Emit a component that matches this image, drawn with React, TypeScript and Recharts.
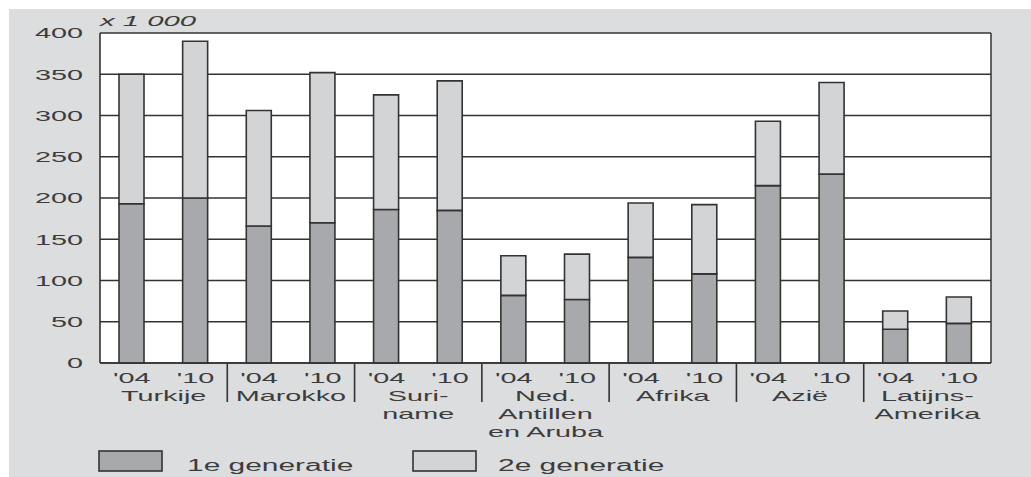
import React from 'react';
import { BarChart, Bar, XAxis, YAxis, CartesianGrid, Legend } from 'recharts';

const regions = ['Turkije', 'Marokko', 'Suri-\nname', 'Ned.\nAntillen\nen Aruba', 'Afrika', 'Azië', 'Latijns-\nAmerika'];
const years = ["'04", "'10"];
const firstGen = [193, 200, 166, 170, 186, 185, 82, 77, 128, 108, 215, 229, 41, 48];
const secondGen = [157, 190, 140, 182, 139, 157, 48, 55, 66, 84, 78, 111, 22, 32];
const yTicks = [0, 50, 100, 150, 200, 250, 300, 350, 400];
const unitLabel = 'x 1 000';
const seriesNames = ['1e generatie', '2e generatie'];

const data = firstGen.map((f, i) => ({
  key: `${regions[Math.floor(i / 2)]} ${years[i % 2]}`,
  region: regions[Math.floor(i / 2)],
  year: years[i % 2],
  first: f,
  second: secondGen[i],
}));

const FONT = "'Liberation Sans', Arial, Helvetica, sans-serif";
const TXT = '#3c3c3c';
const LINE = '#333333';
const SX = 1.92;
const C1 = '#a8a9ac';
const C2 = '#d3d4d6';

const SText = ({ x, y, children, anchor = 'middle', size = 15, sx = SX, italic = false }: any) => (
  <text
    transform={`translate(${x},${y}) scale(${sx},1)`}
    x={0}
    y={0}
    textAnchor={anchor}
    fontFamily={FONT}
    fontSize={size}
    fontStyle={italic ? 'italic' : 'normal'}
    fill={TXT}
  >
    {children}
  </text>
);

const XTick = (props: any) => {
  const { x, y, payload, index } = props;
  const band = 891 / 14;
  const half = payload && typeof payload.offset === 'number' && payload.offset > 0 ? payload.offset : band / 2;
  const i = typeof index === 'number' ? index : payload.index;
  const d = data[i];
  const out: any[] = [];
  out.push(
    <SText key="yr" x={x} y={y + 20}>
      {d.year}
    </SText>
  );
  if (i % 2 === 0) {
    const lines = d.region.split('\n');
    lines.forEach((ln: string, k: number) => {
      out.push(
        <SText key={'r' + k} x={x + half} y={y + 38 + k * 18}>
          {ln}
        </SText>
      );
    });
    if (i > 0) {
      out.push(<line key="sep" x1={x - half} x2={x - half} y1={y} y2={y + 39} stroke={LINE} strokeWidth={1.6} />);
    }
  }
  return <g>{out}</g>;
};

const YTick = (props: any) => {
  const { y, payload } = props;
  return (
    <SText x={83} y={y + 5.4} anchor="end">
      {payload.value}
    </SText>
  );
};

const renderLegend = (props: any) => {
  const payload = props.payload || [];
  const pos = [
    { bx: 99, tx: 187 },
    { bx: 413, tx: 498 },
  ];
  return (
    <svg width={1031} height={37} style={{ display: 'block' }}>
      {payload.map((p: any, k: number) => (
        <g key={k}>
          <rect x={pos[k].bx} y={11} width={63} height={20} fill={p.color} stroke={LINE} strokeWidth={1.6} />
          <SText x={pos[k].tx} y={31} anchor="start" size={16} sx={1.87}>
            {p.value}
          </SText>
        </g>
      ))}
    </svg>
  );
};

export default function App() {
  return (
    <div style={{ position: 'absolute', left: 0, top: 0, width: 1031, height: 477, background: '#fff', overflow: 'hidden' }}>
      <div style={{ position: 'absolute', left: 9, top: 9, width: 1022, height: 468, background: '#dcdddf' }} />
      <div style={{ position: 'absolute', left: 0, top: 0 }}>
        <BarChart width={1031} height={477} data={data} margin={{ top: 33, right: 40, left: 20, bottom: 14 }} barCategoryGap={0}>
          <CartesianGrid
            fill="#ffffff"
            stroke={LINE}
            strokeWidth={1.5}
            horizontal={true}
            vertical={true}
            verticalCoordinatesGenerator={(p: any) => [p.offset.left + p.offset.width]}
          />
          <XAxis
            dataKey="key"
            type="category"
            interval={0}
            height={100}
            tickLine={false}
            tickSize={0}
            tickMargin={0}
            axisLine={{ stroke: LINE, strokeWidth: 1.6 }}
            tick={<XTick />}
          />
          <YAxis
            type="number"
            domain={[0, 400]}
            ticks={yTicks}
            width={80}
            tickLine={false}
            tickSize={0}
            axisLine={{ stroke: LINE, strokeWidth: 1.6 }}
            tick={<YTick />}
            label={{
              content: (lp: any) => {
                const vb = lp.viewBox || { x: 20, y: 33, width: 80 };
                return (
                  <SText x={vb.x + vb.width} y={vb.y - 7} anchor="start" italic sx={1.95}>
                    {unitLabel}
                  </SText>
                );
              },
            }}
          />
          <Legend
            layout="horizontal"
            verticalAlign="middle"
            align="center"
            wrapperStyle={{ top: 440, left: 0, width: 1031, height: 37 }}
            content={renderLegend}
          />
          <Bar dataKey="first" name={seriesNames[0]} stackId="a" fill={C1} stroke={LINE} strokeWidth={1.6} barSize={25} isAnimationActive={false} />
          <Bar dataKey="second" name={seriesNames[1]} stackId="a" fill={C2} stroke={LINE} strokeWidth={1.6} barSize={25} isAnimationActive={false} />
        </BarChart>
      </div>
    </div>
  );
}
